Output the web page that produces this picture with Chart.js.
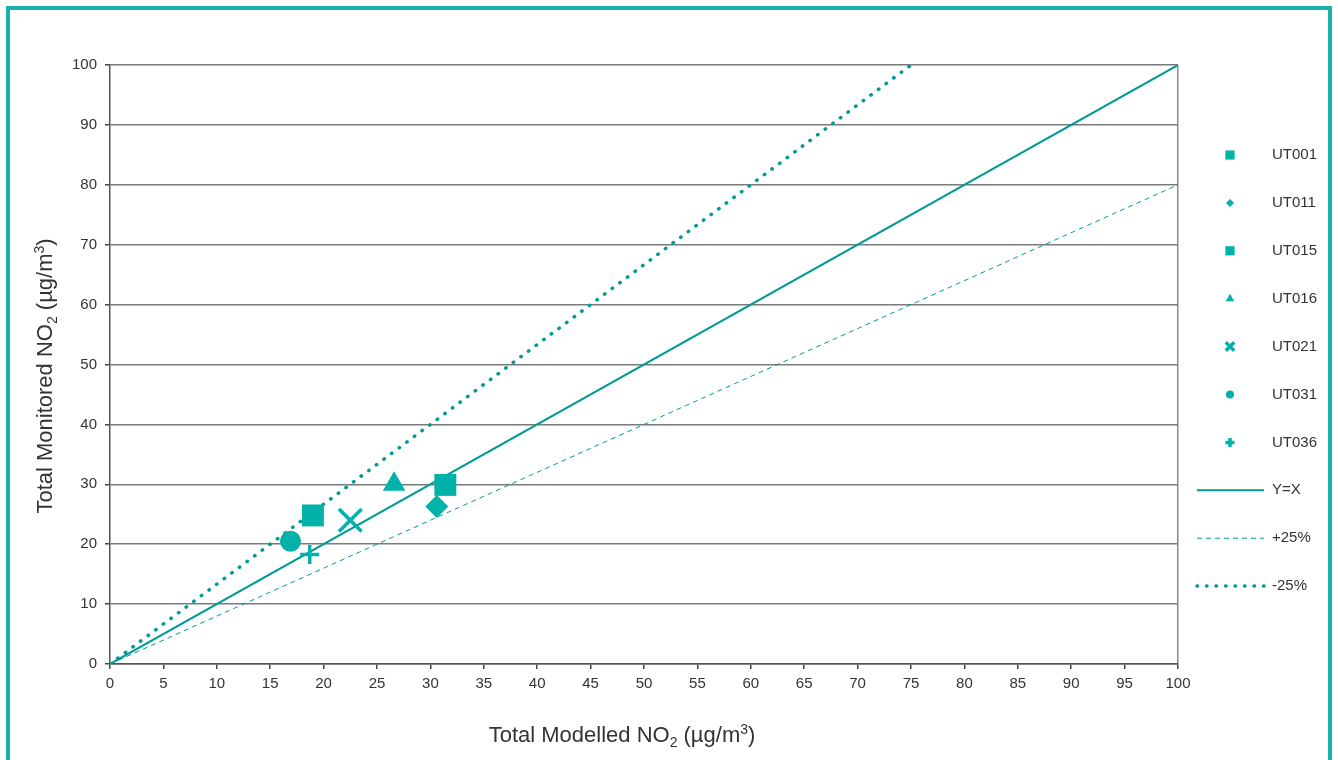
<!DOCTYPE html>
<html><head><meta charset="utf-8">
<script src="https://cdn.jsdelivr.net/npm/chart.js@4.4.1/dist/chart.umd.min.js"></script>
<style>
html,body{margin:0;padding:0;background:#fff;overflow:hidden}
#wrap{position:relative;width:1338px;height:760px}
#frame{position:absolute;left:6px;top:6px;width:1318px;height:800px;border:4px solid #17b3aa;pointer-events:none}
</style></head><body>
<div id="wrap"><canvas id="c" width="1338" height="760"></canvas><div id="frame"></div></div>
<script>
// ---- data ----
const siteNames = ['UT001','UT011','UT015','UT016','UT021','UT031','UT036'];
const modelled  = [19.0, 30.6, 31.4, 26.6, 22.5, 16.9, 18.7];
const monitored = [24.8, 26.3, 29.9, 30.0, 24.0, 20.5, 18.3];
const refNames = ['Y=X', '+25%', '-25%'];
const refX = [[0, 100], [0, 100], [0, 75]];
const refY = [[0, 100], [0, 80], [0, 100]];
const xStep = 5, yStep = 10, axisMin = 0, axisMax = 100;
// axis titles as rich-text parts (normal / sub / sup)
const xTitleParts = [['Total Modelled NO', 0], ['2', -1], [' (µg/m', 0], ['3', 1], [')', 0]];
const yTitleParts = [['Total Monitored NO', 0], ['2', -1], [' (µg/m', 0], ['3', 1], [')', 0]];

// ---- styles ----
const markFill = '#00b2a9';
const lineCol = '#009b93';
const siteStyles = ['rect','rectRot','rect','triangle','crossRot','circle','cross'];
const siteRadius = [15.5, 11.5, 15.5, 13, 16, 10.5, 9.5];
const siteBorder = [0, 0, 0, 0, 3.5, 0, 3.5];
const legRadius = [6.5, 4, 6.5, 5, 6, 4, 4.5];
const legBorder = [0, 0, 0, 0, 3.5, 0, 3.5];
const refStyles = [
  {borderWidth: 2, borderDash: [], cap: 'butt'},
  {borderWidth: 1, borderDash: [5, 4], cap: 'butt'},
  {borderWidth: 3.5, borderDash: [0.5, 9], cap: 'round'}
];

const FONT = '"Liberation Sans", Arial, Helvetica, sans-serif';
Chart.defaults.font.family = FONT;

const datasets = [];
siteNames.forEach((n, i) => {
  datasets.push({
    label: n,
    data: [{x: modelled[i], y: monitored[i]}],
    pointStyle: siteStyles[i],
    pointRadius: siteRadius[i],
    pointHoverRadius: siteRadius[i],
    pointBorderWidth: siteBorder[i],
    pointBackgroundColor: markFill,
    pointBorderColor: markFill,
    showLine: false
  });
});
refNames.forEach((n, i) => {
  datasets.push({
    label: n,
    isRef: true,
    data: refX[i].map((x, k) => ({x: x, y: refY[i][k]})),
    showLine: true,
    pointRadius: 0,
    pointHoverRadius: 0,
    borderColor: lineCol,
    borderWidth: refStyles[i].borderWidth,
    borderDash: refStyles[i].borderDash,
    borderCapStyle: refStyles[i].cap,
    fill: false
  });
});

function drawRich(ctx, parts, cx, baseY, size, subSize) {
  const fonts = parts.map(p => (p[1] === 0 ? size : subSize) + 'px ' + FONT);
  let total = 0;
  const widths = parts.map((p, i) => { ctx.font = fonts[i]; const w = ctx.measureText(p[0]).width; total += w; return w; });
  let x = cx - total / 2;
  ctx.textAlign = 'left';
  ctx.textBaseline = 'alphabetic';
  parts.forEach((p, i) => {
    ctx.font = fonts[i];
    const dy = p[1] === -1 ? 5 : (p[1] === 1 ? -8 : 0);
    ctx.fillText(p[0], x, baseY + dy);
    x += widths[i];
  });
}

const titlesPlugin = {
  id: 'richTitles',
  afterDraw(chart) {
    const ctx = chart.ctx;
    ctx.save();
    ctx.fillStyle = '#333';
    drawRich(ctx, xTitleParts, 622, 742, 22, 14);
    ctx.translate(52, 376);
    ctx.rotate(-Math.PI / 2);
    drawRich(ctx, yTitleParts, 0, 0, 22, 14);
    ctx.restore();
  }
};

const legendPlugin = {
  id: 'sideLegend',
  afterDraw(chart) {
    const ctx = chart.ctx;
    ctx.save();
    ctx.font = '15px ' + FONT;
    ctx.textBaseline = 'middle';
    chart.data.datasets.forEach((ds, i) => {
      const y = 155 + i * 47.9;
      if (ds.isRef) {
        ctx.save();
        ctx.strokeStyle = ds.borderColor;
        ctx.lineWidth = ds.borderWidth;
        ctx.setLineDash(ds.borderDash);
        ctx.lineCap = ds.borderCapStyle;
        ctx.beginPath(); ctx.moveTo(1197, y); ctx.lineTo(1264, y); ctx.stroke();
        ctx.restore();
      } else {
        ctx.save();
        ctx.fillStyle = markFill; ctx.strokeStyle = markFill;
        ctx.lineWidth = legBorder[i];
        Chart.helpers.drawPoint(ctx, {pointStyle: ds.pointStyle, radius: legRadius[i], borderWidth: legBorder[i], rotation: 0}, 1230, y);
        ctx.restore();
      }
      ctx.fillStyle = '#333';
      ctx.fillText(ds.label, 1272, y);
    });
    ctx.restore();
  }
};

new Chart(document.getElementById('c'), {
  type: 'scatter',
  data: {datasets},
  plugins: [legendPlugin, titlesPlugin],
  options: {
    responsive: false,
    animation: false,
    devicePixelRatio: 1,
    layout: {padding: {left: 30, top: 65, right: 160, bottom: 0}},
    plugins: {legend: {display: false}, tooltip: {enabled: false}},
    scales: {
      x: {
        type: 'linear', min: axisMin, max: axisMax,
        afterFit: s => { s.height = 96; },
        ticks: {stepSize: xStep, color: '#333', font: {size: 15}, padding: 6, maxRotation: 0, autoSkip: false},
        grid: {
          color: c => (c.tick && c.tick.value === axisMax) ? '#8a8a8a' : 'rgba(0,0,0,0)',
          lineWidth: 1.5, tickColor: '#444', tickLength: 5
        },
        border: {color: '#555', width: 1.5},
        title: {display: false}
      },
      y: {
        type: 'linear', min: axisMin, max: axisMax,
        afterFit: s => { s.width = 80; },
        ticks: {stepSize: yStep, color: '#333', font: {size: 15}, padding: 8},
        grid: {color: '#7a7a7a', lineWidth: 1.5, tickColor: '#444', tickLength: 5},
        border: {color: '#555', width: 1.5},
        title: {display: false}
      }
    }
  }
});
</script>
</body></html>
